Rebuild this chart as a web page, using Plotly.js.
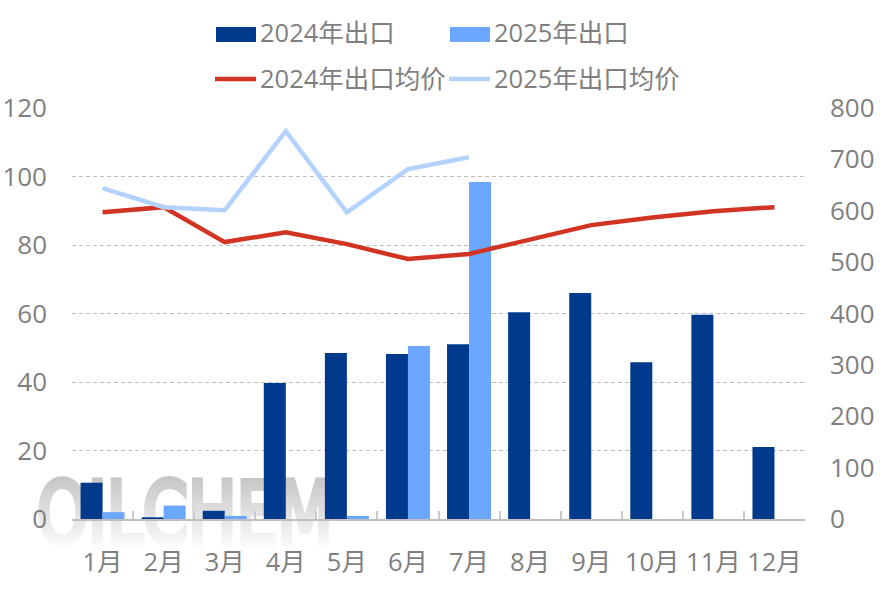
<!DOCTYPE html>
<html><head><meta charset="utf-8">
<script src="https://cdn.plot.ly/plotly-3.0.1.min.js"></script>
<style>
html,body{margin:0;padding:0;background:#fff;width:886px;height:590px;overflow:hidden}
#wm{position:absolute;left:0;top:0}
#chart{position:absolute;left:0;top:0;width:886px;height:590px}
</style></head><body>
<svg id="wm" width="886" height="590"><defs><linearGradient id="wg" gradientUnits="userSpaceOnUse" x1="0" y1="478" x2="0" y2="547"><stop offset="0" stop-color="#c6c6c6"/><stop offset="1" stop-color="#fbfbfb"/></linearGradient></defs>
<text x="37" y="543" font-family="DejaVu Sans" font-size="86" fill="url(#wg)" stroke="url(#wg)" stroke-width="6" textLength="296" lengthAdjust="spacingAndGlyphs">OILCHEM</text></svg>
<div id="chart"></div>
<script>
const months=['1月','2月','3月','4月','5月','6月','7月','8月','9月','10月','11月','12月'];
const export2024=[10.6,0.5,2.4,39.7,48.5,48.2,51,60.4,66,45.8,59.6,21];
const export2025=[2,3.9,0.9,0,0.9,50.5,98.4];
const price2024=[597,607,539,558,535,506,516,543,572,587,599,607];
const price2025=[644,607,601,755,597,681,704];
const leftTicks=[0,20,40,60,80,100,120];
const rightTicks=[0,100,200,300,400,500,600,700,800];
const names=['2024年出口','2025年出口','2024年出口均价','2025年出口均价'];
const colors=['#003a8c','#6ba6ff','#d13423','#b4d2fe'];
const fontFam='"Open Sans","Noto Sans CJK SC",sans-serif';
const grey='#7f7f7f', axisGrey='#bfbfbf';
const W=886,H=590,ML=72,MR=81,MT=108,MB=71;
const px=x=>(x-ML)/(W-ML-MR), py=y=>1-(y-MT)/(H-MT-MB);
const data=[
 {type:'bar',name:names[0],x:months,y:export2024,marker:{color:colors[0]}},
 {type:'bar',name:names[1],x:months.slice(0,export2025.length),y:export2025,marker:{color:colors[1]}},
 {type:'scatter',mode:'lines',name:names[2],x:months,y:price2024,yaxis:'y2',line:{color:colors[2],width:4.5}},
 {type:'scatter',mode:'lines',name:names[3],x:months.slice(0,price2025.length),y:price2025,yaxis:'y2',line:{color:colors[3],width:4.5}}
];
const mk=(t,x,y)=>({text:t,xref:'paper',yref:'paper',x:px(x),y:py(y),xanchor:'left',yanchor:'middle',showarrow:false,font:{family:fontFam,size:25.5,color:grey}});
const layout={
 width:W,height:H,showlegend:false,barmode:'group',bargap:0.28,bargroupgap:0,
 paper_bgcolor:'rgba(0,0,0,0)',plot_bgcolor:'rgba(0,0,0,0)',
 margin:{l:ML,r:MR,t:MT,b:MB,pad:0},
 font:{family:fontFam,color:grey},
 xaxis:{type:'category',categoryorder:'array',categoryarray:months,tickson:'boundaries',ticks:'inside',ticklen:8,tickwidth:2,tickcolor:'#c8c8c8',showline:true,linecolor:axisGrey,linewidth:2,showgrid:false,zeroline:false,tickfont:{size:25.5,color:grey,family:fontFam},ticklabelstandoff:19,tickangle:0},
 yaxis:{range:[0,120],tickmode:'array',tickvals:leftTicks,ticktext:leftTicks.map(String),showgrid:true,gridcolor:axisGrey,griddash:'4px,3px',gridwidth:1,zeroline:false,showline:false,ticks:'',tickfont:{size:26,color:grey,family:fontFam},ticklabelstandoff:24},
 yaxis2:{range:[0,800],overlaying:'y',side:'right',tickmode:'array',tickvals:rightTicks,ticktext:rightTicks.map(String),showgrid:false,zeroline:false,showline:false,ticks:'',tickfont:{size:26,color:grey,family:fontFam},ticklabelstandoff:24},
 shapes:[
  {type:'rect',xref:'paper',yref:'paper',x0:px(216),x1:px(256),y0:py(42),y1:py(27),fillcolor:colors[0],line:{width:0}},
  {type:'rect',xref:'paper',yref:'paper',x0:px(450),x1:px(490),y0:py(42),y1:py(27),fillcolor:colors[1],line:{width:0}},
  {type:'line',xref:'paper',yref:'paper',x0:px(215),x1:px(256),y0:py(79),y1:py(79),line:{color:colors[2],width:4.5}},
  {type:'line',xref:'paper',yref:'paper',x0:px(449),x1:px(490),y0:py(79),y1:py(79),line:{color:colors[3],width:4.5}}
 ],
 annotations:[mk(names[0],258,32),mk(names[1],492,32),mk(names[2],258,78),mk(names[3],492,78)]
};
Plotly.newPlot('chart',data,layout,{displayModeBar:false,staticPlot:true});
</script></body></html>
